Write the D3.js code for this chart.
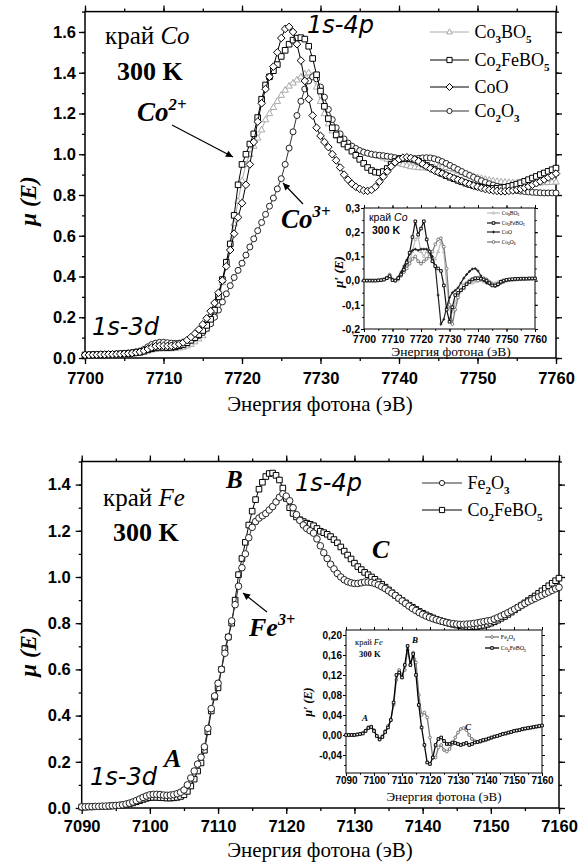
<!DOCTYPE html>
<html><head><meta charset="utf-8">
<script src="https://cdn.jsdelivr.net/npm/d3@7"></script>
<style>body{margin:0;background:#fff}svg{display:block}</style>
</head><body>
<script>
// ---------------- DATA ----------------
// Co K-edge, 7700..7760 eV, step 0.5 eV
const coEnergy = d3.range(121).map(i => 7700 + i * 0.5);
const co3bo5 = [
0.013,0.013,0.014,0.014,0.015,0.015,0.016,0.016,0.017,0.018,
0.019,0.020,0.022,0.024,0.027,0.031,0.036,0.040,0.043,0.045,
0.046,0.046,0.046,0.047,0.050,0.054,0.060,0.068,0.080,0.094,
0.110,0.140,0.170,0.220,0.280,0.370,0.470,0.560,0.660,0.770,
0.870,0.950,1.000,1.040,1.080,1.120,1.170,1.200,1.230,1.260,
1.290,1.315,1.335,1.350,1.365,1.380,1.395,1.400,1.385,1.330,
1.260,1.200,1.150,1.115,1.090,1.070,1.055,1.045,1.035,1.025,
1.018,1.010,1.005,1.000,0.995,0.990,0.983,0.976,0.970,0.963,
0.956,0.950,0.945,0.940,0.937,0.935,0.934,0.934,0.935,0.936,
0.937,0.937,0.935,0.931,0.925,0.918,0.910,0.903,0.897,0.891,
0.886,0.881,0.877,0.873,0.870,0.867,0.865,0.863,0.862,0.861,
0.860,0.860,0.860,0.860,0.860,0.860,0.860,0.861,0.862,0.863,
0.864];
const co2febo5Co = [
0.015,0.015,0.016,0.016,0.017,0.017,0.018,0.018,0.019,0.020,
0.021,0.022,0.024,0.026,0.028,0.033,0.040,0.046,0.050,0.052,
0.052,0.051,0.052,0.055,0.060,0.066,0.075,0.087,0.100,0.115,
0.135,0.160,0.190,0.235,0.300,0.385,0.470,0.560,0.700,0.850,
0.950,1.000,1.050,1.100,1.180,1.270,1.340,1.380,1.410,1.440,
1.480,1.510,1.540,1.560,1.570,1.572,1.565,1.530,1.470,1.390,
1.310,1.235,1.175,1.130,1.095,1.070,1.050,1.035,1.015,0.995,
0.975,0.955,0.935,0.920,0.912,0.910,0.915,0.930,0.950,0.965,
0.975,0.980,0.980,0.977,0.972,0.965,0.955,0.945,0.935,0.925,
0.915,0.905,0.895,0.887,0.880,0.872,0.865,0.858,0.852,0.846,
0.842,0.838,0.835,0.833,0.832,0.833,0.835,0.838,0.842,0.847,
0.853,0.860,0.867,0.875,0.883,0.891,0.900,0.908,0.916,0.924,
0.932];
const coO = [
0.015,0.015,0.016,0.016,0.017,0.017,0.018,0.018,0.019,0.020,
0.021,0.022,0.024,0.027,0.030,0.036,0.044,0.052,0.058,0.060,
0.060,0.059,0.060,0.063,0.068,0.076,0.088,0.103,0.120,0.140,
0.165,0.195,0.230,0.270,0.320,0.380,0.450,0.530,0.610,0.690,
0.760,0.850,0.950,1.060,1.160,1.250,1.320,1.380,1.430,1.500,
1.570,1.615,1.625,1.600,1.540,1.460,1.360,1.270,1.190,1.130,
1.090,1.060,1.035,1.000,0.970,0.935,0.900,0.875,0.855,0.840,
0.830,0.822,0.820,0.825,0.840,0.865,0.890,0.915,0.940,0.960,
0.975,0.983,0.985,0.982,0.975,0.965,0.952,0.940,0.930,0.920,
0.912,0.905,0.897,0.890,0.882,0.875,0.868,0.860,0.853,0.846,
0.840,0.834,0.829,0.825,0.822,0.820,0.818,0.818,0.820,0.822,
0.826,0.830,0.836,0.842,0.850,0.858,0.867,0.876,0.886,0.895,
0.905];
const co2o3 = [
0.015,0.015,0.016,0.016,0.017,0.017,0.018,0.019,0.020,0.021,
0.022,0.024,0.027,0.030,0.034,0.042,0.055,0.066,0.073,0.077,
0.077,0.075,0.073,0.072,0.073,0.076,0.080,0.088,0.098,0.110,
0.125,0.145,0.168,0.200,0.235,0.275,0.315,0.355,0.395,0.430,
0.465,0.505,0.545,0.585,0.625,0.665,0.705,0.745,0.785,0.830,
0.880,0.950,1.030,1.110,1.190,1.260,1.320,1.360,1.380,1.370,
1.330,1.280,1.220,1.170,1.130,1.100,1.075,1.055,1.040,1.028,
1.018,1.010,1.005,1.000,0.997,0.995,0.993,0.990,0.987,0.983,
0.980,0.978,0.977,0.977,0.978,0.980,0.982,0.983,0.982,0.978,
0.972,0.964,0.955,0.945,0.935,0.925,0.915,0.905,0.896,0.887,
0.878,0.870,0.862,0.855,0.849,0.843,0.838,0.833,0.829,0.825,
0.822,0.819,0.817,0.815,0.813,0.812,0.811,0.810,0.810,0.810,
0.810];

// Co derivative inset, 7700..7760 eV, step 1 eV
const coDEnergy = d3.range(61).map(i => 7700 + i);
const dCo3bo5 = [
0,0,0,0,0,0.001,0.002,0.004,0.008,0.014,
0.000,0.002,0.010,0.025,0.040,0.060,0.085,0.120,0.170,0.180,
0.120,0.100,0.120,0.100,0.080,0.090,0.120,0.160,0.120,-0.020,
-0.110,-0.130,-0.090,-0.060,-0.040,-0.025,-0.015,-0.010,-0.010,-0.005,
0.000,0.000,-0.005,-0.010,-0.010,-0.010,-0.010,-0.005,0.000,0.002,
0.003,0.004,0.005,0.005,0.005,0.005,0.006,0.006,0.006,0.006,
0.006];
const dCo2febo5Co = [
0,0,0,0,0,0.001,0.002,0.004,0.010,0.018,
0.002,0.000,0.010,0.025,0.045,0.075,0.115,0.180,0.245,0.190,
0.215,0.245,0.170,0.120,0.080,0.060,0.050,0.040,-0.020,-0.120,
-0.170,-0.110,-0.060,-0.050,-0.040,-0.030,-0.015,-0.005,0.005,0.010,
0.010,0.008,0.005,0.000,-0.010,-0.020,-0.020,-0.015,-0.005,0.000,
0.003,0.005,0.006,0.007,0.007,0.008,0.008,0.008,0.009,0.009,
0.009];
const dCoO = [
0,0,0,0,0,0.001,0.002,0.005,0.012,0.020,
0.004,0.000,0.015,0.035,0.060,0.085,0.110,0.125,0.130,0.125,
0.130,0.130,0.130,0.120,0.100,0.060,-0.060,-0.180,-0.160,-0.110,
-0.070,-0.050,-0.040,-0.030,-0.010,0.010,0.025,0.038,0.048,0.050,
0.040,0.020,0.000,-0.010,-0.015,-0.020,-0.025,-0.020,-0.010,-0.005,
0.000,0.002,0.003,0.004,0.005,0.006,0.007,0.008,0.008,0.009,
0.010];
const dCo2o3 = [
0,0,0,0,0,0.001,0.002,0.005,0.012,0.025,
0.005,0.000,0.005,0.020,0.035,0.050,0.070,0.090,0.100,0.080,
0.070,0.080,0.090,0.100,0.120,0.150,0.170,0.175,0.140,0.050,
-0.100,-0.180,-0.120,-0.070,-0.040,-0.020,-0.010,0.000,0.005,0.005,
0.000,0.005,0.010,0.005,-0.005,-0.015,-0.020,-0.015,-0.010,-0.005,
0.000,0.002,0.003,0.004,0.005,0.006,0.006,0.007,0.007,0.008,
0.008];

// Fe K-edge, 7090..7160 eV, step 0.5 eV
const feEnergy = d3.range(141).map(i => 7090 + i * 0.5);
const fe2o3 = [
0.005,0.005,0.006,0.006,0.007,0.007,0.008,0.008,0.009,0.010,
0.011,0.012,0.014,0.017,0.021,0.026,0.032,0.039,0.046,0.052,
0.057,0.059,0.059,0.058,0.056,0.055,0.056,0.058,0.062,0.068,
0.078,0.100,0.130,0.160,0.190,0.220,0.265,0.345,0.430,0.485,
0.540,0.600,0.670,0.740,0.810,0.880,0.960,1.040,1.100,1.170,
1.215,1.240,1.255,1.265,1.275,1.290,1.305,1.325,1.345,1.360,
1.350,1.330,1.300,1.270,1.245,1.225,1.210,1.200,1.190,1.165,
1.135,1.105,1.080,1.055,1.035,1.015,1.000,0.988,0.980,0.975,
0.972,0.972,0.975,0.978,0.978,0.976,0.972,0.966,0.958,0.950,
0.940,0.930,0.920,0.908,0.896,0.885,0.874,0.864,0.855,0.846,
0.838,0.831,0.825,0.820,0.815,0.811,0.807,0.803,0.800,0.798,
0.796,0.795,0.795,0.796,0.797,0.799,0.801,0.804,0.807,0.810,
0.812,0.818,0.824,0.831,0.838,0.845,0.853,0.861,0.869,0.877,
0.885,0.893,0.900,0.907,0.914,0.921,0.928,0.935,0.942,0.949,
0.955];
const co2febo5Fe = [
0.004,0.004,0.005,0.005,0.006,0.006,0.007,0.007,0.008,0.009,
0.010,0.011,0.013,0.015,0.018,0.022,0.027,0.032,0.037,0.042,
0.045,0.046,0.046,0.045,0.044,0.043,0.043,0.044,0.046,0.050,
0.057,0.072,0.095,0.125,0.160,0.195,0.250,0.330,0.420,0.480,
0.520,0.600,0.690,0.740,0.800,0.900,1.010,1.080,1.150,1.225,
1.285,1.335,1.380,1.410,1.435,1.448,1.450,1.440,1.420,1.385,
1.340,1.300,1.275,1.260,1.248,1.240,1.233,1.228,1.222,1.210,
1.198,1.192,1.185,1.175,1.162,1.148,1.130,1.112,1.095,1.078,
1.060,1.045,1.032,1.020,1.010,1.000,0.990,0.979,0.968,0.956,
0.944,0.932,0.920,0.909,0.898,0.888,0.878,0.869,0.860,0.851,
0.843,0.836,0.829,0.823,0.817,0.812,0.807,0.803,0.799,0.795,
0.792,0.789,0.787,0.786,0.785,0.785,0.786,0.788,0.791,0.795,
0.800,0.806,0.813,0.821,0.829,0.838,0.848,0.858,0.868,0.878,
0.888,0.898,0.908,0.918,0.929,0.940,0.951,0.962,0.973,0.984,
0.995];

// Fe derivative inset, 7090..7160 eV, step 1 eV
const feDEnergy = d3.range(71).map(i => 7090 + i);
const dFe2o3 = [
0,0,0,0,0.001,0.002,0.004,0.009,0.016,0.017,
0.010,-0.002,-0.008,-0.002,0.008,0.018,0.030,0.060,0.110,0.130,
0.120,0.130,0.170,0.140,0.165,0.145,0.080,0.040,0.045,0.035,
-0.005,-0.045,-0.045,-0.025,-0.020,-0.030,-0.033,-0.028,-0.018,-0.005,
0.005,0.012,0.014,0.010,0.000,-0.008,-0.012,-0.014,-0.014,-0.012,
-0.010,-0.008,-0.006,-0.004,-0.002,0.000,0.002,0.003,0.004,0.006,
0.008,0.009,0.010,0.011,0.012,0.013,0.014,0.015,0.016,0.017,
0.018];
const dCo2febo5Fe = [
0,0,0,0,0.001,0.002,0.003,0.008,0.014,0.016,
0.008,-0.002,-0.009,-0.004,0.006,0.015,0.030,0.065,0.120,0.125,
0.115,0.140,0.178,0.140,0.162,0.120,0.060,0.015,-0.020,-0.055,
-0.058,-0.045,-0.020,-0.008,-0.005,-0.012,-0.018,-0.018,-0.015,-0.016,
-0.018,-0.020,-0.018,-0.016,-0.020,-0.018,-0.015,-0.014,-0.012,-0.010,
-0.009,-0.007,-0.005,-0.003,-0.002,0.000,0.002,0.003,0.005,0.006,
0.008,0.009,0.010,0.012,0.013,0.014,0.015,0.016,0.017,0.018,
0.019];

// tick labels
const coTicksX = [7700,7710,7720,7730,7740,7750,7760];
const coTicksY = [0,0.2,0.4,0.6,0.8,1.0,1.2,1.4,1.6];
const feTicksX = [7090,7100,7110,7120,7130,7140,7150,7160];
const feTicksY = [0,0.2,0.4,0.6,0.8,1.0,1.2,1.4];
const coInsetTicksY = [-0.2,-0.1,0,0.1,0.2,0.3];
const feInsetTicksY = [-0.04,0,0.04,0.08,0.12,0.16,0.20];

// ---------------- DRAWING ----------------
const SERIF = '"Liberation Serif","Times New Roman",serif';
const SANS = '"Liberation Sans",Arial,sans-serif';
const svg = d3.select('body').append('svg').attr('width',580).attr('height',863);

function axes(g, x, y, o) {
  const [xl, xr] = x.range(), [yb, yt] = y.range();
  g.append('rect').attr('x',xl).attr('y',yt).attr('width',xr-xl).attr('height',yb-yt)
    .attr('fill','#fff').attr('stroke','none');
  const mk = (axis, tr, vals, len, fmt, pad) => {
    const a = g.append('g').attr('transform', tr)
      .call(axis.tickValues(vals).tickSize(len).tickSizeOuter(0).tickPadding(pad||2)
        .tickFormat(fmt || (() => '')));
    a.select('.domain').remove();
    a.selectAll('line').attr('stroke','#000').attr('stroke-width', o.tw);
    a.selectAll('text').attr('font-family', SANS).attr('font-weight','bold')
      .attr('font-size', o.fs).attr('fill','#000');
    return a;
  };
  mk(d3.axisBottom(x), `translate(0,${yb})`, o.xMinor, o.minor);
  mk(d3.axisBottom(x), `translate(0,${yb})`, o.xMajor, o.major, o.fx, o.padX);
  mk(d3.axisTop(x), `translate(0,${yt})`, o.xMinor, o.minor);
  mk(d3.axisTop(x), `translate(0,${yt})`, o.xMajor, o.major);
  mk(d3.axisLeft(y), `translate(${xl},0)`, o.yMinor, o.minor);
  mk(d3.axisLeft(y), `translate(${xl},0)`, o.yMajor, o.major, o.fy, o.padY);
  mk(d3.axisRight(y), `translate(${xr},0)`, o.yMinor, o.minor);
  mk(d3.axisRight(y), `translate(${xr},0)`, o.yMajor, o.major);
  g.append('rect').attr('x',xl).attr('y',yt).attr('width',xr-xl).attr('height',yb-yt)
    .attr('fill','none').attr('stroke','#000').attr('stroke-width', o.fw);
}

function markerPath(type, s) {
  if (type === 'square') return `M${-s},${-s}h${2*s}v${2*s}h${-2*s}Z`;
  if (type === 'diamond') return `M0,${-s}L${s},0L0,${s}L${-s},0Z`;
  if (type === 'triangle') return `M0,${-s}L${s*0.9},${s*0.6}L${-s*0.9},${s*0.6}Z`;
  if (type === 'plus') return `M${-s},0h${2*s}M0,${-s}v${2*s}`;
  return `M${s},0A${s},${s} 0 1,1 ${-s},0A${s},${s} 0 1,1 ${s},0Z`;
}

function series(g, x, y, E, V, st) {
  const pts = E.map((e, i) => [e, V[i]]);
  g.append('path').datum(pts)
    .attr('d', d3.line().x(d => x(d[0])).y(d => y(d[1])))
    .attr('fill','none').attr('stroke', st.line).attr('stroke-width', st.lw);
  g.append('g').selectAll('path').data(pts).join('path')
    .attr('transform', d => `translate(${x(d[0])},${y(d[1])})`)
    .attr('d', markerPath(st.marker, st.size))
    .attr('fill', st.marker === 'plus' ? 'none' : (st.fill || '#fff'))
    .attr('stroke', st.mstroke || st.line).attr('stroke-width', st.mw || 1);
}

function rich(g, x, y, parts, o) {
  const t = g.append('text').attr('x', x).attr('y', y)
    .attr('font-family', o.ff || SERIF).attr('font-size', o.fs).attr('fill', o.fill || '#000');
  if (o.anchor) t.attr('text-anchor', o.anchor);
  if (o.weight) t.attr('font-weight', o.weight);
  if (o.style) t.attr('font-style', o.style);
  if (o.rotate) t.attr('transform', `rotate(${o.rotate},${x},${y})`);
  let shift = 0;
  parts.forEach(p => {
    const [str, kind] = typeof p === 'string' ? [p, ''] : p;
    let target = 0;
    if (kind.includes('sub')) target = o.fs * 0.28;
    if (kind.includes('sup')) target = -o.fs * 0.42;
    const ts = t.append('tspan').text(str);
    if (target - shift !== 0) ts.attr('dy', target - shift);
    shift = target;
    if (kind.includes('sub') || kind.includes('sup')) ts.attr('font-size', o.fs * 0.62);
    if (kind.includes('i')) ts.attr('font-style', 'italic');
    if (kind.includes('b')) ts.attr('font-weight', 'bold');
  });
  return t;
}

function text(g, x, y, str, o) { return rich(g, x, y, [str], o); }

svg.append('defs').append('marker').attr('id','ah').attr('viewBox','0 0 10 10')
  .attr('refX',10).attr('refY',5).attr('markerWidth',9).attr('markerHeight',7)
  .attr('markerUnits','userSpaceOnUse').attr('orient','auto')
  .append('path').attr('d','M0,0L10,5L0,10Z').attr('fill','#000');

function arrow(g, x1, y1, x2, y2) {
  g.append('line').attr('x1',x1).attr('y1',y1).attr('x2',x2).attr('y2',y2)
    .attr('stroke','#000').attr('stroke-width',1.2).attr('marker-end','url(#ah)');
}

function legendRow(g, xa, xb, yy, st, parts, fs, ff) {
  g.append('line').attr('x1',xa).attr('x2',xb).attr('y1',yy).attr('y2',yy)
    .attr('stroke', st.line).attr('stroke-width', st.lw);
  g.append('path').attr('transform',`translate(${(xa+xb)/2},${yy})`)
    .attr('d', markerPath(st.marker, st.size))
    .attr('fill', st.marker === 'plus' ? 'none' : '#fff')
    .attr('stroke', st.mstroke || st.line).attr('stroke-width', st.mw || 1);
  rich(g, xb + fs * 0.3, yy + fs * 0.33, parts, {fs, ff: ff || SERIF});
}

const minorRange = (a, b, s) => d3.range(Math.round((b - a) / s) + 1).map(i => a + i * s);
const fmt1 = d3.format('.1f');
const comma1 = v => d3.format('.1f')(v).replace('.', ',').replace('−','-');
const comma2 = v => d3.format('.2f')(v).replace('.', ',').replace('−','-');

// ======== TOP PANEL (Co) ========
{
  const g = svg.append('g');
  const x = d3.scaleLinear().domain([7700, 7760]).range([85, 556]);
  const y = d3.scaleLinear().domain([0, 1.7]).range([358, 11.6]);
  axes(g, x, y, {xMajor: coTicksX, xMinor: minorRange(7700, 7760, 5),
    yMajor: coTicksY, yMinor: minorRange(0, 1.7, 0.1), major: 6, minor: 3,
    tw: 1.3, fw: 1.5, fs: 16.5, fx: d3.format('d'), fy: fmt1, padX: 8, padY: 3});
  const stCo3 = {line:'#aaa', lw:1, marker:'triangle', size:3.6, mstroke:'#aaa'};
  const stCoFe = {line:'#000', lw:1, marker:'square', size:2.8};
  const stCoO = {line:'#000', lw:1, marker:'diamond', size:3.8};
  const stCo2o3 = {line:'#333', lw:1, marker:'circle', size:3, mstroke:'#222'};
  series(g, x, y, coEnergy, co3bo5, stCo3);
  series(g, x, y, coEnergy, co2o3, stCo2o3);
  series(g, x, y, coEnergy, co2febo5Co, stCoFe);
  series(g, x, y, coEnergy, coO, stCoO);

  legendRow(g, 430, 469, 32, {...stCo3, size:3.2}, ['Co',['3','sub'],'BO',['5','sub']], 18);
  legendRow(g, 430, 469, 60, {...stCoFe, size:2.6}, ['Co',['2','sub'],'FeBO',['5','sub']], 18);
  legendRow(g, 430, 469, 87, {...stCoO, size:3.5}, ['CoO'], 18);
  legendRow(g, 430, 469, 111, {...stCo2o3, size:2.6}, ['Co',['2','sub'],'O',['3','sub']], 18);

  rich(g, 105, 44, ['край ', ['Co','i']], {fs: 25});
  text(g, 117, 80, '300 K', {fs: 26, weight: 'bold'});
  rich(g, 137, 121, ['Co', ['2+','sup']], {fs: 27, weight:'bold', style:'italic'});
  arrow(g, 172, 125, 233, 157);
  rich(g, 281, 228, ['Co', ['3+','sup']], {fs: 27, weight:'bold', style:'italic'});
  arrow(g, 303, 204, 283, 183);
  text(g, 307, 33, '1s-4p', {fs: 24, ff: '"DejaVu Sans",sans-serif', style:'italic'});
  text(g, 92, 335, '1s-3d', {fs: 24, ff: '"DejaVu Sans",sans-serif', style:'italic'});

  rich(g, 36, 201, ['μ', ' (', 'E', ')'], {fs: 23, weight:'bold', style:'italic', anchor:'middle', rotate:-90});
  text(g, 320, 411, 'Энергия фотона (эВ)', {fs: 21, anchor:'middle'});

  // inset
  const gi = svg.append('g');
  const xi = d3.scaleLinear().domain([7700, 7760]).range([364, 535]);
  const yi = d3.scaleLinear().domain([-0.2, 0.3]).range([329, 208]);
  axes(gi, xi, yi, {xMajor: coTicksX, xMinor: minorRange(7700, 7760, 5),
    yMajor: coInsetTicksY, yMinor: minorRange(-0.2, 0.3, 0.05), major: 3, minor: 1.8,
    tw: 1, fw: 1, fs: 10.5, fx: d3.format('d'), fy: comma1, padX: 3.5, padY: 1});
  const sCo3 = {line:'#bbb', lw:1.2, marker:'triangle', size:1.6};
  const sCoFe = {line:'#111', lw:1.2, marker:'square', size:1.3};
  const sCoO = {line:'#222', lw:1.2, marker:'plus', size:1.4};
  const sCo2o3 = {line:'#777', lw:1.2, marker:'circle', size:1.4};
  series(gi, xi, yi, coDEnergy, dCo3bo5, sCo3);
  series(gi, xi, yi, coDEnergy, dCo2o3, sCo2o3);
  series(gi, xi, yi, coDEnergy, dCoO, sCoO);
  series(gi, xi, yi, coDEnergy, dCo2febo5Co, sCoFe);
  legendRow(gi, 487, 500, 213, sCo3, ['Co',['3','sub'],'BO',['5','sub']], 5.5);
  legendRow(gi, 487, 500, 223, sCoFe, ['Co',['2','sub'],'FeBO',['5','sub']], 5.5);
  legendRow(gi, 487, 500, 232, sCoO, ['CoO'], 5.5);
  legendRow(gi, 487, 500, 242, sCo2o3, ['Co',['2','sub'],'O',['3','sub']], 5.5);
  rich(gi, 369, 221, ['край ', ['Co','i']], {fs: 10.5, ff: SANS});
  text(gi, 372, 234, '300 K', {fs: 10.5, ff: SANS, weight:'bold'});
  rich(gi, 343, 272, ['μ′', ' (', 'E', ')'], {fs: 13, weight:'bold', style:'italic', anchor:'middle', rotate:-90});
  text(gi, 451, 356, 'Энергия фотона (эВ)', {fs: 13.5, anchor:'middle'});
}

// ======== BOTTOM PANEL (Fe) ========
{
  const g = svg.append('g');
  const x = d3.scaleLinear().domain([7090, 7160]).range([81.7, 559]);
  const y = d3.scaleLinear().domain([0, 1.5]).range([808, 461.5]);
  axes(g, x, y, {xMajor: feTicksX, xMinor: minorRange(7090, 7160, 5),
    yMajor: feTicksY, yMinor: minorRange(0, 1.5, 0.1), major: 6, minor: 3,
    tw: 1.3, fw: 1.5, fs: 16.5, fx: d3.format('d'), fy: fmt1, padX: 6, padY: 5});
  const stFe = {line:'#333', lw:1, marker:'circle', size:3.3, mstroke:'#222'};
  const stCoFe = {line:'#000', lw:1, marker:'square', size:2.8};
  series(g, x, y, feEnergy, co2febo5Fe, stCoFe);
  series(g, x, y, feEnergy, fe2o3, stFe);

  legendRow(g, 422, 462, 483, {...stFe, size:2.6}, ['Fe',['2','sub'],'O',['3','sub']], 18);
  legendRow(g, 422, 462, 510, {...stCoFe, size:2.6}, ['Co',['2','sub'],'FeBO',['5','sub']], 18);

  rich(g, 103, 506, ['край ', ['Fe','i']], {fs: 25});
  text(g, 113, 541, '300 K', {fs: 26, weight: 'bold'});
  text(g, 226, 488, 'B', {fs: 25, weight:'bold', style:'italic'});
  text(g, 372, 558, 'C', {fs: 26, weight:'bold', style:'italic'});
  text(g, 164, 767, 'A', {fs: 26, weight:'bold', style:'italic'});
  rich(g, 249, 636, ['Fe', ['3+','sup']], {fs: 26, weight:'bold', style:'italic'});
  arrow(g, 267, 612, 243, 593);
  text(g, 295, 491, '1s-4p', {fs: 24, ff: '"DejaVu Sans",sans-serif', style:'italic'});
  text(g, 90, 785, '1s-3d', {fs: 24, ff: '"DejaVu Sans",sans-serif', style:'italic'});

  rich(g, 36, 652, ['μ', ' (', 'E', ')'], {fs: 23, weight:'bold', style:'italic', anchor:'middle', rotate:-90});
  text(g, 320, 857, 'Энергия фотона (эВ)', {fs: 21, anchor:'middle'});

  // inset
  const gi = svg.append('g');
  const xi = d3.scaleLinear().domain([7090, 7160]).range([346, 542]);
  const yi = d3.scaleLinear().domain([-0.076, 0.21]).range([773, 630]);
  axes(gi, xi, yi, {xMajor: feTicksX, xMinor: minorRange(7090, 7160, 5),
    yMajor: feInsetTicksY, yMinor: minorRange(-0.06, 0.2, 0.02), major: 3, minor: 1.8,
    tw: 1, fw: 1, fs: 10, fx: d3.format('d'), fy: comma2, padX: 1, padY: 1});
  const sFe = {line:'#777', lw:1.3, marker:'circle', size:1.4};
  const sCoFe2 = {line:'#000', lw:1.3, marker:'square', size:1.3};
  series(gi, xi, yi, feDEnergy, dFe2o3, sFe);
  series(gi, xi, yi, feDEnergy, dCo2febo5Fe, sCoFe2);
  legendRow(gi, 485, 499, 637, sFe, ['Fe',['2','sub'],'O',['3','sub']], 6);
  legendRow(gi, 485, 499, 648, sCoFe2, ['Co',['2','sub'],'FeBO',['5','sub']], 6);
  rich(gi, 355, 645, ['край ', ['Fe','i']], {fs: 8.5});
  text(gi, 359, 657, '300 K', {fs: 8.5, weight:'bold'});
  text(gi, 362, 721, 'A', {fs: 9, weight:'bold', style:'italic'});
  text(gi, 412, 643, 'B', {fs: 9, weight:'bold', style:'italic'});
  text(gi, 465, 730, 'C', {fs: 9, weight:'bold', style:'italic'});
  rich(gi, 312, 702, ['μ′', ' (', 'E', ')'], {fs: 12, weight:'bold', style:'italic', anchor:'middle', rotate:-90});
  text(gi, 444, 801, 'Энергия фотона (эВ)', {fs: 13, anchor:'middle'});
}
</script>
</body></html>
